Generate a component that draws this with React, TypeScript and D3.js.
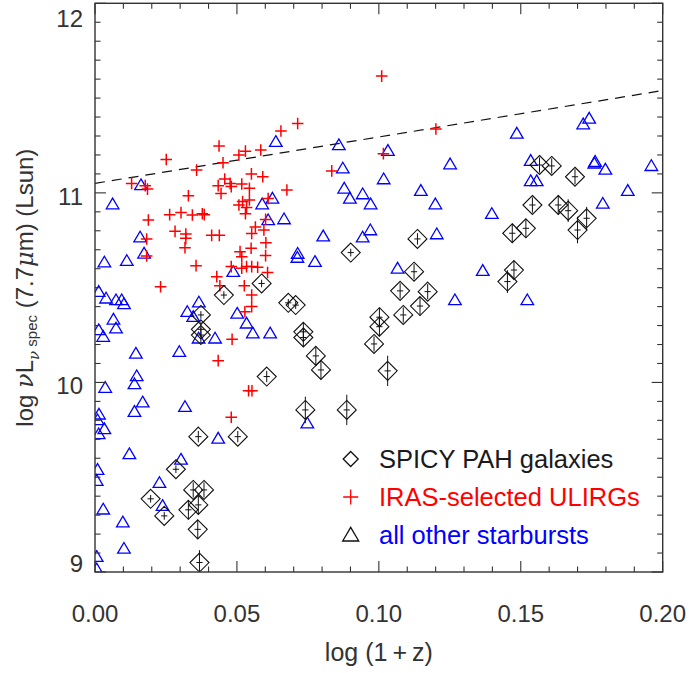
import { useRef, useEffect } from 'react';
import * as d3 from 'd3';

// SPICY PAH galaxies (diamonds with error bars)
const spicyX = [0.0454, 0.0587, 0.0681, 0.0707, 0.0373, 0.0373, 0.0373, 0.0734, 0.0734, 0.0778,
    0.0796, 0.0605, 0.0741, 0.0364, 0.0503, 0.0887, 0.0901, 0.1136, 0.1124, 0.1075,
    0.1172, 0.1145, 0.1086, 0.1002, 0.1002, 0.0983, 0.1031, 0.1566, 0.1609, 0.1691,
    0.1541, 0.1632, 0.1667, 0.1732, 0.1700, 0.1470, 0.1518, 0.1476, 0.1453, 0.0285,
    0.0196, 0.0244, 0.0346, 0.0384, 0.0329, 0.0364, 0.0362, 0.0368];
const spicyY = [10.461, 10.522, 10.420, 10.408, 10.356, 10.280, 10.250, 10.267, 10.237, 10.140,
    10.066, 10.031, 9.855, 9.714, 9.714, 9.855, 10.685, 10.757, 10.584, 10.483,
    10.479, 10.403, 10.356, 10.344, 10.294, 10.203, 10.061, 11.147, 11.142, 11.085,
    10.936, 10.936, 10.906, 10.866, 10.804, 10.787, 10.813, 10.593, 10.532, 9.542,
    9.386, 9.296, 9.433, 9.433, 9.328, 9.354, 9.225, 9.050];
const spicyErr = [0.02, 0.02, 0.02, 0.02, 0.02, 0.04, 0.04, 0.05, 0.05, 0.05,
    0.05, 0.03, 0.07, 0.03, 0.03, 0.08, 0.02, 0.03, 0.04, 0.04,
    0.04, 0.05, 0.04, 0.05, 0.05, 0.04, 0.08, 0.04, 0.04, 0.04,
    0.04, 0.05, 0.06, 0.06, 0.07, 0.05, 0.05, 0.05, 0.06, 0.02,
    0.02, 0.02, 0.04, 0.04, 0.05, 0.05, 0.05, 0.065];

// IRAS-selected ULIRGs (red crosses)
const irasX = [0.0714, 0.0655, 0.0437, 0.0530, 0.0584, 0.0507, 0.0251, 0.0451, 0.0358, 0.0551,
    0.0591, 0.0457, 0.0129, 0.0177, 0.0185, 0.0434, 0.0476, 0.0480, 0.0517, 0.0544,
    0.0444, 0.0676, 0.0329, 0.0520, 0.0507, 0.0544, 0.0534, 0.0530, 0.0610, 0.0263,
    0.0303, 0.0343, 0.0378, 0.0385, 0.0188, 0.0282, 0.0320, 0.0320, 0.0411, 0.0438,
    0.0182, 0.0317, 0.0182, 0.0565, 0.0552, 0.0595, 0.0601, 0.0602, 0.0550, 0.0511,
    0.0517, 0.0601, 0.0356, 0.0480, 0.0517, 0.0534, 0.0552, 0.0573, 0.0608, 0.0429,
    0.0231, 0.0440, 0.0526, 0.0552, 0.0552, 0.0528, 0.0483, 0.0434, 0.0541, 0.0553,
    0.0480, 0.1010, 0.1201, 0.1016, 0.0834];
const irasY = [11.366, 11.326, 11.247, 11.220, 11.226, 11.200, 11.176, 11.159, 11.120, 11.100,
    11.085, 11.073, 11.050, 11.038, 11.020, 11.038, 11.050, 11.033, 11.047, 11.024,
    10.997, 11.015, 10.985, 10.954, 10.936, 10.963, 10.923, 10.890, 10.970, 10.885,
    10.896, 10.883, 10.890, 10.885, 10.857, 10.797, 10.783, 10.760, 10.776, 10.776,
    10.757, 10.711, 10.667, 10.820, 10.786, 10.804, 10.860, 10.737, 10.708, 10.690,
    10.663, 10.669, 10.616, 10.611, 10.602, 10.611, 10.611, 10.608, 10.580, 10.558,
    10.505, 10.510, 10.510, 10.461, 10.400, 10.373, 10.228, 10.115, 9.956, 9.956,
    9.816, 11.616, 11.337, 11.207, 11.116];

// all other starbursts (blue triangles)
const otherX = [0.0062, 0.0162, 0.0159, 0.0637, 0.0859, 0.1032, 0.0873, 0.1017, 0.1251, 0.0878,
    0.0943, 0.0898, 0.0971, 0.1148, 0.1199, 0.0589, 0.0625, 0.0610, 0.0666, 0.0804,
    0.0943, 0.0970, 0.1204, 0.1486, 0.1720, 0.1741, 0.1535, 0.1759, 0.1762, 0.1798,
    0.1960, 0.1535, 0.1556, 0.1877, 0.1789, 0.1398, 0.0173, 0.0033, 0.0112, 0.0487,
    0.0013, 0.0039, 0.0074, 0.0094, 0.0102, 0.0366, 0.0325, 0.0346, 0.0065, 0.0074,
    0.0013, 0.0029, 0.0365, 0.0423, 0.0144, 0.0297, 0.0147, 0.0139, 0.0036, 0.0168,
    0.0139, 0.0014, 0.0009, 0.0033, 0.0013, 0.0317, 0.0434, 0.0121, 0.0303, 0.0009,
    0.0006, 0.0227, 0.0238, 0.0029, 0.0098, 0.0102, 0.0006, 0.0006, 0.0714, 0.0713,
    0.0775, 0.0501, 0.0534, 0.0556, 0.0617, 0.0748, 0.1066, 0.1268, 0.1366, 0.1523];
const otherY = [10.941, 11.042, 10.766, 11.270, 11.253, 11.223, 11.130, 11.073, 11.152, 11.024,
    10.994, 10.971, 10.941, 11.012, 10.941, 10.941, 10.971, 10.857, 10.862, 10.772,
    10.766, 10.804, 10.783, 11.314, 11.363, 11.393, 11.170, 11.156, 11.165, 11.124,
    11.143, 11.063, 11.063, 11.012, 10.944, 10.890, 10.681, 10.634, 10.642, 10.584,
    10.479, 10.444, 10.435, 10.435, 10.414, 10.423, 10.373, 10.347, 10.333, 10.286,
    10.277, 10.242, 10.233, 10.233, 10.153, 10.162, 10.034, 9.992, 9.973, 9.896,
    9.846, 9.832, 9.802, 9.755, 9.728, 9.872, 9.705, 9.623, 9.594, 9.540,
    9.482, 9.471, 9.350, 9.331, 9.263, 9.124, 9.081, 9.015, 10.680, 10.659,
    10.637, 10.364, 10.312, 10.260, 10.260, 9.785, 10.602, 10.435, 10.590, 10.435];

// dashed line
const fitX = [0, 0.2];
const fitY = [11.05, 11.54];

const xTicks = [0, 0.05, 0.10, 0.15, 0.20];
const yTicks = [9, 10, 11, 12];
const legendLabels = ['SPICY PAH galaxies', 'IRAS-selected ULIRGs', 'all other starbursts'];
const legendColors = ['#1a1a1a', '#ff0000', '#0000ff'];

const FONT = '"Liberation Sans", Arial, Helvetica, sans-serif';

const App = () => {
    const svgRef = useRef<SVGSVGElement | null>(null);

    useEffect(() => {
        const svgElement = svgRef.current;
        if (!svgElement) return;

        const width = 689;
        const height = 673;
        const margin = { top: 3.3, right: 26.3, bottom: 101, left: 95 };

        const svg = d3.select(svgElement);
        svg.selectAll('*').remove();

        const x = d3.scaleLinear().domain([0, 0.2]).range([margin.left, width - margin.right]);
        const y = d3.scaleLinear().domain([9, 12]).range([height - margin.bottom, margin.top]);
        const x0 = margin.left, x1 = width - margin.right;
        const y0 = height - margin.bottom, y1 = margin.top;

        svg.append('defs').append('clipPath')
            .attr('id', 'plot-clip')
            .append('rect')
            .attr('x', x0).attr('y', y1)
            .attr('width', x1 - x0).attr('height', y0 - y1);

        const plot = svg.append('g').attr('clip-path', 'url(#plot-clip)');

        // dashed line
        plot.append('line')
            .attr('x1', x(fitX[0])).attr('y1', y(fitY[0]))
            .attr('x2', x(fitX[1])).attr('y2', y(fitY[1]))
            .attr('stroke', '#111')
            .attr('stroke-width', 1.2)
            .attr('stroke-dasharray', '10,7');

        // blue triangles
        const tri = (s: number) => `M0,${-s * 0.95}L${s},${s * 0.75}L${-s},${s * 0.75}Z`;
        plot.selectAll('.other')
            .data(otherX.map((v, i) => [v, otherY[i]]))
            .enter().append('path')
            .attr('d', tri(6.3))
            .attr('transform', d => `translate(${x(d[0])},${y(d[1])})`)
            .attr('fill', 'none')
            .attr('stroke', '#0000ff')
            .attr('stroke-width', 1.3);

        // red crosses
        const cross = (s: number) => `M${-s},0H${s}M0,${-s}V${s}`;
        plot.selectAll('.iras')
            .data(irasX.map((v, i) => [v, irasY[i]]))
            .enter().append('path')
            .attr('d', cross(5.8))
            .attr('transform', d => `translate(${x(d[0])},${y(d[1])})`)
            .attr('fill', 'none')
            .attr('stroke', '#ff0000')
            .attr('stroke-width', 1.5);

        // diamonds with error bars
        const diamond = (s: number) => `M0,${-s}L${s},0L0,${s}L${-s},0Z`;
        const spicy = plot.selectAll('.spicy')
            .data(spicyX.map((v, i) => [v, spicyY[i], spicyErr[i]]))
            .enter().append('g');
        spicy.append('path')
            .attr('d', diamond(9.5))
            .attr('transform', d => `translate(${x(d[0])},${y(d[1])})`)
            .attr('fill', 'none')
            .attr('stroke', '#111')
            .attr('stroke-width', 1.1);
        spicy.append('line')
            .attr('x1', d => x(d[0])).attr('x2', d => x(d[0]))
            .attr('y1', d => y(d[1] - d[2])).attr('y2', d => y(d[1] + d[2]))
            .attr('stroke', '#111').attr('stroke-width', 1);
        spicy.append('line')
            .attr('x1', d => x(d[0] - 0.0011)).attr('x2', d => x(d[0] + 0.0011))
            .attr('y1', d => y(d[1])).attr('y2', d => y(d[1]))
            .attr('stroke', '#111').attr('stroke-width', 1);

        // axes frame
        const axisColor = '#333';
        svg.append('rect')
            .attr('x', x0).attr('y', y1)
            .attr('width', x1 - x0).attr('height', y0 - y1)
            .attr('fill', 'none')
            .attr('stroke', axisColor)
            .attr('stroke-width', 1.4);

        const isMajor = (v: number, step: number) => Math.abs(v / step - Math.round(v / step)) < 1e-6;
        const ticksG = svg.append('g').attr('stroke', axisColor).attr('stroke-width', 1.1);
        d3.range(0, 0.2001, 0.01).forEach(v => {
            const len = isMajor(v, 0.05) ? 11 : 5.5;
            ticksG.append('line').attr('x1', x(v)).attr('x2', x(v)).attr('y1', y0).attr('y2', y0 - len);
            ticksG.append('line').attr('x1', x(v)).attr('x2', x(v)).attr('y1', y1).attr('y2', y1 + len);
        });
        d3.range(9, 12.0001, 0.1).forEach(v => {
            const len = isMajor(v, 1) ? 11 : 5.5;
            ticksG.append('line').attr('x1', x0).attr('x2', x0 + len).attr('y1', y(v)).attr('y2', y(v));
            ticksG.append('line').attr('x1', x1).attr('x2', x1 - len).attr('y1', y(v)).attr('y2', y(v));
        });

        // tick labels
        svg.append('g').selectAll('text')
            .data(xTicks)
            .enter().append('text')
            .attr('x', d => x(d))
            .attr('y', y0 + 50)
            .attr('text-anchor', 'middle')
            .style('font-family', FONT)
            .style('font-size', '24px')
            .style('fill', '#333')
            .text(d => d3.format('.2f')(d));

        svg.append('g').selectAll('text')
            .data(yTicks)
            .enter().append('text')
            .attr('x', x0 - 12)
            .attr('y', d => Math.min(Math.max(y(d) + 3, y1 + 15), y0 - 9))
            .attr('dy', '0.36em')
            .attr('text-anchor', 'end')
            .style('font-family', FONT)
            .style('font-size', '24px')
            .style('fill', '#333')
            .text(d => String(d));

        // axis titles
        svg.append('text')
            .attr('x', (x0 + x1) / 2)
            .attr('y', y0 + 89)
            .attr('text-anchor', 'middle')
            .style('font-family', FONT)
            .style('font-size', '25px')
            .style('fill', '#333')
            .text('log (1\u2009+\u2009z)');

        const yTitle = svg.append('text')
            .attr('transform', `translate(33, ${(y0 + y1) / 2}) rotate(-90)`)
            .attr('text-anchor', 'middle')
            .style('font-family', FONT)
            .style('font-size', '24px')
            .style('fill', '#333');
        yTitle.append('tspan').text('log ');
        yTitle.append('tspan').style('font-family', '"DejaVu Serif", serif').style('font-style', 'italic').text('ν');
        yTitle.append('tspan').text('L');
        yTitle.append('tspan').attr('dy', 6).style('font-size', '15px')
            .style('font-family', '"DejaVu Serif", serif').style('font-style', 'italic').text('ν');
        yTitle.append('tspan').attr('dy', -2).style('font-size', '15px').text(' spec');
        yTitle.append('tspan').attr('dy', -4).text(' (7.7');
        yTitle.append('tspan').style('font-family', '"DejaVu Serif", serif').style('font-style', 'italic').text('μ');
        yTitle.append('tspan').text('m) (Lsun)');

        // legend
        const legX = 350.7;
        const legY = [459, 497, 535];
        const leg = svg.append('g');
        leg.append('path').attr('d', diamond(7.5))
            .attr('transform', `translate(${legX},${legY[0]})`)
            .attr('fill', 'none').attr('stroke', '#111').attr('stroke-width', 1.3);
        leg.append('path').attr('d', cross(7.5))
            .attr('transform', `translate(${legX},${legY[1]})`)
            .attr('fill', 'none').attr('stroke', '#ff0000').attr('stroke-width', 1.3);
        leg.append('path').attr('d', tri(8))
            .attr('transform', `translate(${legX},${legY[2]})`)
            .attr('fill', 'none').attr('stroke', '#111').attr('stroke-width', 1.3);
        legendLabels.forEach((label, i) => {
            leg.append('text')
                .attr('x', 379)
                .attr('y', legY[i] + 8.5)
                .style('font-family', FONT)
                .style('font-size', '25.5px')
                .style('fill', legendColors[i])
                .text(label);
        });
    }, []);

    return (
        <div style={{ position: 'absolute', left: 0, top: 0, width: 689, height: 673, background: '#fff' }}>
            <svg ref={svgRef} width={689} height={673} style={{ display: 'block' }}></svg>
        </div>
    );
};

export default App;
